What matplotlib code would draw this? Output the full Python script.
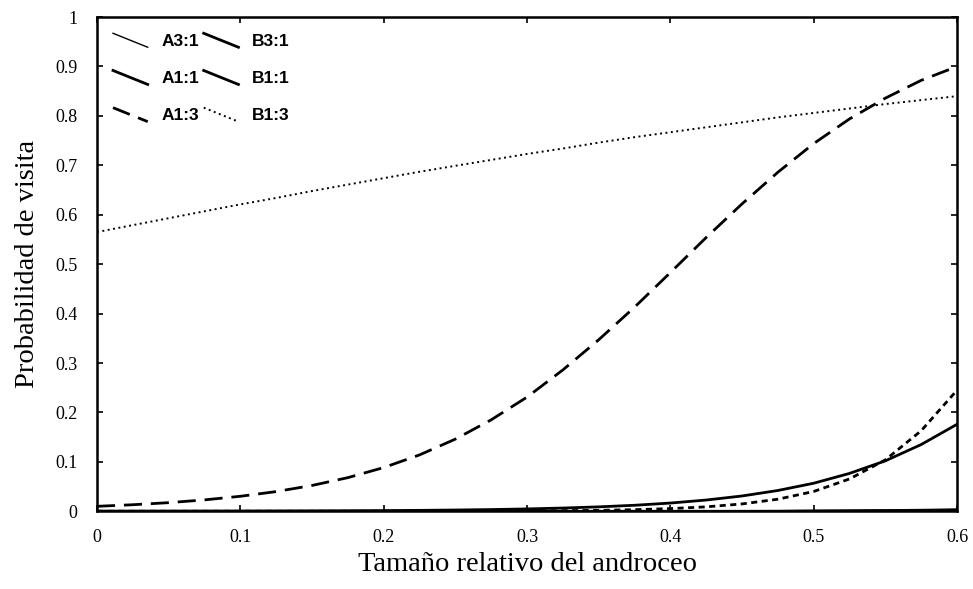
import matplotlib
matplotlib.use("Agg")
import matplotlib.pyplot as plt
from matplotlib.legend_handler import HandlerBase
from matplotlib.lines import Line2D

# ----------------- data -------------------------------------------------#
x = [0.0, 0.025, 0.05, 0.075, 0.1, 0.125, 0.15, 0.175, 0.2, 0.225, 0.25, 0.275,
     0.3, 0.325, 0.35, 0.375, 0.4, 0.425, 0.45, 0.475, 0.5, 0.525, 0.55, 0.575, 0.6]

a31 = [0.0, 0.0, 0.0, 0.0, 0.0, 0.0, 0.0, 0.0, 0.0, 0.0, 0.0, 0.0,
       0.0, 0.0, 0.0, 0.0, 0.0005, 0.0007, 0.001, 0.0013, 0.0017, 0.0022, 0.0028, 0.0035, 0.0045]
b31 = [0.0, 0.0, 0.0, 0.0, 0.0, 0.0, 0.0, 0.0, 0.0, 0.0, 0.0, 0.0,
       0.0, 0.0, 0.0, 0.0, 0.0, 0.0, 0.0, 0.0, 0.0005, 0.0007, 0.001, 0.0014, 0.002]
a11 = [0.0001, 0.00014, 0.0002, 0.00027, 0.00037, 0.00052, 0.0007, 0.00097, 0.0013,
       0.0018, 0.0025, 0.0034, 0.0047, 0.0065, 0.0089, 0.0121, 0.0166, 0.0227, 0.0309,
       0.042, 0.0567, 0.0766, 0.102, 0.135, 0.176]
b11 = [0.0, 0.0, 0.0, 0.0, 0.0, 0.0, 0.0, 0.0, 0.0001, 0.00015, 0.00025, 0.0004,
       0.0007, 0.0012, 0.0019, 0.0032, 0.0054, 0.0089, 0.0148, 0.0244, 0.040, 0.0654,
       0.104, 0.163, 0.245]
a13 = [0.010, 0.0132, 0.0174, 0.023, 0.0303, 0.0398, 0.0522, 0.068, 0.0884, 0.114,
       0.146, 0.185, 0.231, 0.286, 0.347, 0.413, 0.483, 0.554, 0.622, 0.686, 0.744,
       0.794, 0.836, 0.872, 0.900]
b13 = [0.565, 0.579, 0.593, 0.607, 0.621, 0.634, 0.648, 0.661, 0.674, 0.687, 0.699,
       0.711, 0.723, 0.734, 0.746, 0.757, 0.767, 0.777, 0.787, 0.797, 0.806, 0.815,
       0.824, 0.832, 0.840]

xticks = [0, 0.1, 0.2, 0.3, 0.4, 0.5, 0.6]
xlabels = ["0", "0.1", "0.2", "0.3", "0.4", "0.5", "0.6"]
yticks = [0, 0.1, 0.2, 0.3, 0.4, 0.5, 0.6, 0.7, 0.8, 0.9, 1.0]
ylabels = ["0", "0.1", "0.2", "0.3", "0.4", "0.5", "0.6", "0.7", "0.8", "0.9", "1"]


# --------- legend swatches drawn as slanted strokes -------------------#
class SlantHandler(HandlerBase):
    def create_artists(self, legend, orig_handle, xdescent, ydescent,
                       width, height, fontsize, trans):
        line = Line2D([-xdescent, -xdescent + width],
                      [-ydescent + height * 1.05, -ydescent - height * 0.1])
        self.update_prop(line, orig_handle, legend)
        line.set_transform(trans)
        return [line]


fig = plt.figure(figsize=(9.73, 5.89), dpi=100)
ax = fig.add_axes([0.0997, 0.132, 0.8839, 0.839])

l_a31, = ax.plot(x, a31, color="black", lw=1.0, label="A3:1")
l_b31, = ax.plot(x, b31, color="black", lw=2.0, label="B3:1")
l_a11, = ax.plot(x, a11, color="black", lw=2.0, label="A1:1")
ax.plot(x, b11, color="black", lw=2.0, linestyle=(0, (2.2, 1.6)))
l_a13, = ax.plot(x, a13, color="black", lw=2.0, linestyle=(0, (6.5, 3.2)), label="A1:3")
l_b13, = ax.plot(x, b13, color="black", lw=1.4, linestyle=(0, (1, 1.8)), label="B1:3")
l_b11 = Line2D([], [], color="black", lw=2.0, label="B1:1")

ax.set_xlim(0, 0.6)
ax.set_ylim(0, 1)
ax.set_xticks(xticks)
ax.set_xticklabels(xlabels)
ax.set_yticks(yticks)
ax.set_yticklabels(ylabels)
ax.tick_params(direction="in", length=4, width=1.2, top=True, right=True,
               labelsize=13)
ax.tick_params(axis="y", pad=14)
ax.tick_params(axis="x", pad=13)
for lab in ax.get_xticklabels() + ax.get_yticklabels():
    lab.set_family("Liberation Serif")
for sp in ax.spines.values():
    sp.set_linewidth(1.8)

ax.set_xlabel("Tamaño relativo del androceo", family="Liberation Serif",
              fontsize=20.5, labelpad=4)
ax.set_ylabel("Probabilidad de visita", family="Liberation Serif",
              fontsize=20.5, labelpad=11)

handles = [l_a31, l_a11, l_a13, l_b31, l_b11, l_b13]
leg = ax.legend(handles=handles, ncol=2, loc="upper left", frameon=False,
                handler_map={Line2D: SlantHandler()},
                prop={"family": "Liberation Sans", "weight": "bold", "size": 12.5},
                handlelength=2.0, handletextpad=0.8, columnspacing=0.25,
                labelspacing=1.27, borderpad=0, borderaxespad=0,
                bbox_to_anchor=(0.0186, 0.966))

fig.savefig("out.png", dpi=100)
